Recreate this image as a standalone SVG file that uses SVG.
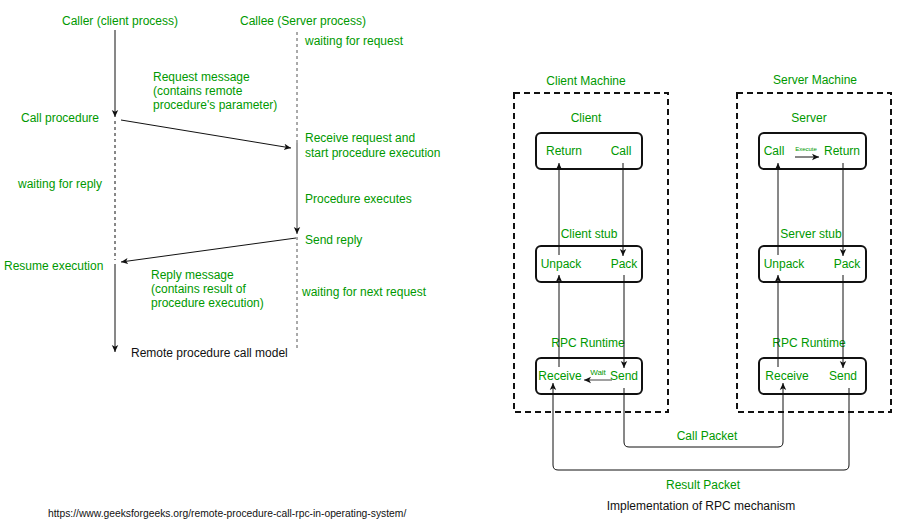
<svg xmlns="http://www.w3.org/2000/svg" width="903" height="521" viewBox="0 0 903 521">
<style>
text{font-family:"Liberation Sans",Arial,sans-serif;font-size:12px;fill:#009900}
.blk{fill:#111}
.mid{text-anchor:middle}
.ln{stroke:#111;stroke-width:1;fill:none}
.dsh{stroke:#111;stroke-width:1;fill:none;stroke-dasharray:3,3}
.box{stroke:#111;stroke-width:2;fill:#fff}
.mach{stroke:#111;stroke-width:2;fill:none;stroke-dasharray:6,4}
</style>
<defs>
<marker id="ah" markerWidth="8" markerHeight="8" refX="7" refY="4" orient="auto" markerUnits="userSpaceOnUse">
<path d="M0,0.8 L7,4 L0,7.2 L1.8,4 z" fill="#111"/>
</marker>
</defs>
<rect width="903" height="521" fill="#fff"/>

<g id="rpc-model">
<text x="62" y="25">Caller (client process)</text>
<text x="240" y="25">Callee (Server process)</text>
<text x="305" y="45">waiting for request</text>
<text x="153" y="81">Request message</text>
<text x="153" y="95">(contains remote</text>
<text x="153" y="109">procedure's parameter)</text>
<text x="21" y="122">Call procedure</text>
<text x="305" y="142">Receive request and</text>
<text x="305" y="157">start procedure execution</text>
<text x="18" y="188">waiting for reply</text>
<text x="305" y="203">Procedure executes</text>
<text x="305" y="244">Send reply</text>
<text x="4" y="270">Resume execution</text>
<text x="151" y="279">Reply message</text>
<text x="151" y="293">(contains result of</text>
<text x="151" y="307">procedure execution)</text>
<text x="302" y="296">waiting for next request</text>
<text x="131" y="357" class="blk">Remote procedure call model</text>
</g>

<g id="client-machine">
<rect x="514" y="93" width="154" height="319" class="mach"/>
<text x="586" y="85" class="mid">Client Machine</text>
</g>
<g id="client">
<text x="586" y="122" class="mid">Client</text>
<rect x="536" y="133" width="106" height="36" rx="5" class="box"/>
<text x="564" y="155" class="mid">Return</text>
<text x="621" y="155" class="mid">Call</text>
</g>
<g id="client-stub">
<text x="589" y="238" class="mid">Client stub</text>
<rect x="536" y="246" width="106" height="36" rx="5" class="box"/>
<text x="561" y="268" class="mid">Unpack</text>
<text x="624" y="268" class="mid">Pack</text>
</g>
<g id="client-runtime">
<text x="588" y="347" class="mid">RPC Runtime</text>
<rect x="536" y="358" width="106" height="36" rx="5" class="box"/>
<text x="560" y="380" class="mid">Receive</text>
<text x="624" y="380" class="mid">Send</text>
<text x="598" y="375" class="mid" style="font-size:8px">Wait</text>
</g>

<g id="server-machine">
<rect x="737" y="93" width="154" height="319" class="mach"/>
<text x="815" y="84" class="mid">Server Machine</text>
</g>
<g id="server">
<text x="809" y="122" class="mid">Server</text>
<rect x="759" y="133" width="107" height="36" rx="5" class="box"/>
<text x="774" y="155" class="mid">Call</text>
<text x="842" y="155" class="mid">Return</text>
<text x="806" y="151" class="mid" style="font-size:6px">Execute</text>
</g>
<g id="server-stub">
<text x="811" y="238" class="mid">Server stub</text>
<rect x="759" y="246" width="107" height="36" rx="5" class="box"/>
<text x="784" y="268" class="mid">Unpack</text>
<text x="847" y="268" class="mid">Pack</text>
</g>
<g id="server-runtime">
<text x="809" y="347" class="mid">RPC Runtime</text>
<rect x="759" y="358" width="107" height="36" rx="5" class="box"/>
<text x="787" y="380" class="mid">Receive</text>
<text x="843" y="380" class="mid">Send</text>
</g>

<g id="captions">
<text x="707" y="440" class="mid">Call Packet</text>
<text x="703" y="489" class="mid">Result Packet</text>
<text x="701" y="510" class="mid blk">Implementation of RPC mechanism</text>
<text x="48" y="517" class="blk" style="font-size:10.3px">https://www.geeksforgeeks.org/remote-procedure-call-rpc-in-operating-system/</text>
</g>

<g id="connectors">
<line x1="115" y1="30" x2="115" y2="117" class="ln" marker-end="url(#ah)"/>
<line x1="115" y1="121" x2="115" y2="260" class="dsh"/>
<line x1="115" y1="264" x2="115" y2="352" class="ln" marker-end="url(#ah)"/>
<line x1="297" y1="32" x2="297" y2="143" class="dsh" style="stroke:#555"/>
<line x1="297" y1="143" x2="297" y2="234" class="ln" style="stroke:#444" marker-end="url(#ah)"/>
<line x1="297" y1="237" x2="297" y2="350" class="dsh" style="stroke:#555"/>
<line x1="121" y1="120" x2="291" y2="148" class="ln" marker-end="url(#ah)"/>
<line x1="296" y1="238" x2="121" y2="262" class="ln" marker-end="url(#ah)"/>

<line x1="559" y1="255" x2="559" y2="163" class="ln" marker-end="url(#ah)"/>
<line x1="623" y1="163" x2="623" y2="256" class="ln" marker-end="url(#ah)"/>
<line x1="559" y1="367" x2="559" y2="275" class="ln" marker-end="url(#ah)"/>
<line x1="624" y1="275" x2="624" y2="368" class="ln" marker-end="url(#ah)"/>
<line x1="612" y1="380" x2="584" y2="380" class="ln" style="stroke:#444" marker-end="url(#ah)"/>

<line x1="778" y1="255" x2="778" y2="163" class="ln" marker-end="url(#ah)"/>
<line x1="843" y1="163" x2="843" y2="256" class="ln" marker-end="url(#ah)"/>
<line x1="778" y1="367" x2="778" y2="275" class="ln" marker-end="url(#ah)"/>
<line x1="843" y1="275" x2="843" y2="368" class="ln" marker-end="url(#ah)"/>
<line x1="795" y1="157" x2="819" y2="157" class="ln" marker-end="url(#ah)"/>

<path d="M624,388 L624,442 Q624,447 629,447 L778,447 Q783,447 783,442 L783,383" class="ln" marker-end="url(#ah)"/>
<path d="M849,388 L849,465 Q849,470 844,470 L558,470 Q553,470 553,465 L553,383" class="ln" marker-end="url(#ah)"/>
</g>
</svg>
